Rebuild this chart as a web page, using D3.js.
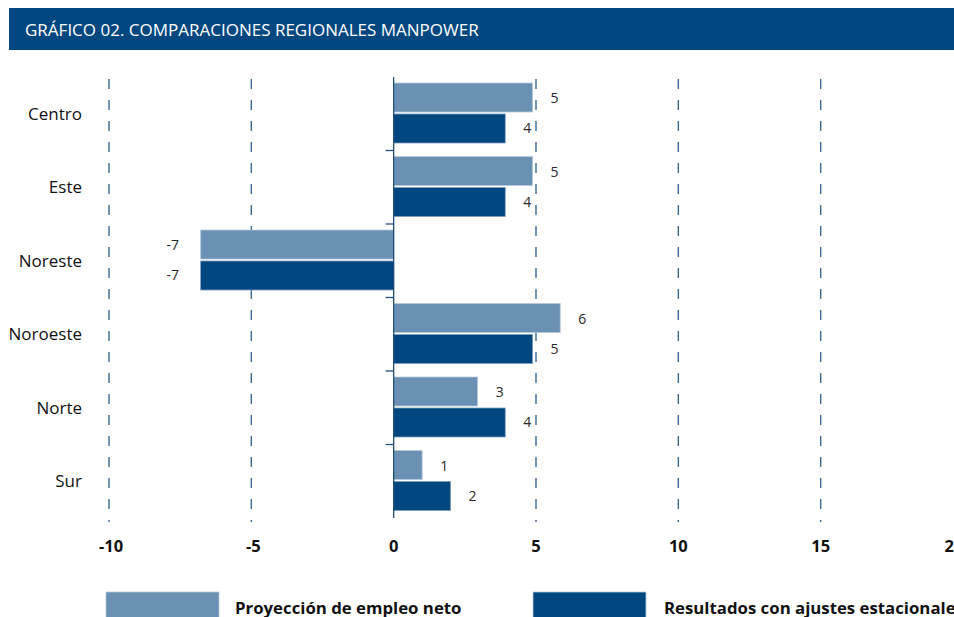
<!DOCTYPE html>
<html>
<head>
<meta charset="utf-8">
<script src="https://cdn.jsdelivr.net/npm/d3@7"></script>
<style>
  body { margin: 0; background: #fff; }
  svg { display: block; font-family: "Open Sans", "Noto Sans", sans-serif; }
</style>
</head>
<body>
<svg width="954" height="617"></svg>
<script>
var regiones = ["Centro", "Este", "Noreste", "Noroeste", "Norte", "Sur"];
var proyeccion = [4.88, 4.88, -6.78, 5.85, 2.95, 1.0];
var ajustados = [3.92, 3.92, -6.78, 4.88, 3.92, 2.0];
var etiquetasProy = ["5", "5", "-7", "6", "3", "1"];
var etiquetasAjus = ["4", "4", "-7", "5", "4", "2"];
var ticksX = [-10, -5, 0, 5, 10, 15, 20];
var series = ["Proyección de empleo neto", "Resultados con ajustes estacionales"];

var colorClaro = "#6a91b3", colorOscuro = "#00467f";

var svg = d3.select("svg");

// banner del título
svg.append("rect")
    .attr("x", 9).attr("y", 8)
    .attr("width", 945).attr("height", 42)
    .attr("fill", "#00467f");
svg.append("text")
    .attr("x", 25).attr("y", 36)
    .attr("fill", "#fff")
    .attr("font-size", 17)
    .text("GRÁFICO 02. COMPARACIONES REGIONALES MANPOWER");

var x = d3.scaleLinear().domain([-10, 20]).range([109, 963]);
var y = d3.scaleBand().domain(regiones).range([77, 518]);

var data = regiones.map(function(r, i) {
  return { region: r, p: proyeccion[i], a: ajustados[i], lp: etiquetasProy[i], la: etiquetasAjus[i] };
});

// líneas de rejilla
svg.append("g")
  .selectAll("line")
  .data(ticksX.filter(function(t) { return t != 0 && t < 20; }))
  .enter().append("line")
    .attr("x1", function(d) { return x(d); })
    .attr("x2", function(d) { return x(d); })
    .attr("y1", 79).attr("y2", 522)
    .attr("stroke", "#3a6894")
    .attr("stroke-width", 1.4)
    .attr("stroke-dasharray", "10,11");

// barras
var g = svg.append("g");
var barH = 29;

g.selectAll("rect.p")
  .data(data)
  .enter().append("rect")
    .attr("class", "p")
    .attr("x", function(d) { return x(Math.min(0, d.p)); })
    .attr("y", function(d) { return y(d.region) + 6; })
    .attr("width", function(d) { return Math.abs(x(d.p) - x(0)); })
    .attr("height", barH)
    .attr("fill", colorClaro)
    .attr("stroke", "#b7c9da")
    .attr("stroke-width", 0.8);

g.selectAll("rect.a")
  .data(data)
  .enter().append("rect")
    .attr("class", "a")
    .attr("x", function(d) { return x(Math.min(0, d.a)); })
    .attr("y", function(d) { return y(d.region) + 6 + barH + 2; })
    .attr("width", function(d) { return Math.abs(x(d.a) - x(0)); })
    .attr("height", barH)
    .attr("fill", colorOscuro)
    .attr("stroke", "#7f9fbf")
    .attr("stroke-width", 0.8);

// etiquetas de valor
function posEtiqueta(v) { return v >= 0 ? x(v) + 22 : x(v) - 28; }

g.selectAll("text.lp")
  .data(data)
  .enter().append("text")
    .attr("x", function(d) { return posEtiqueta(d.p); })
    .attr("y", function(d) { return y(d.region) + 6 + barH / 2 + 1; })
    .attr("dy", "0.35em")
    .attr("text-anchor", "middle")
    .attr("font-size", 14)
    .attr("fill", "#2a2a2a")
    .text(function(d) { return d.lp; });

g.selectAll("text.la")
  .data(data)
  .enter().append("text")
    .attr("x", function(d) { return posEtiqueta(d.a); })
    .attr("y", function(d) { return y(d.region) + 6 + barH + 2 + barH / 2; })
    .attr("dy", "0.35em")
    .attr("text-anchor", "middle")
    .attr("font-size", 14)
    .attr("fill", "#2a2a2a")
    .text(function(d) { return d.la; });

// eje vertical en cero
svg.append("line")
    .attr("x1", x(0)).attr("x2", x(0))
    .attr("y1", 77).attr("y2", 518)
    .attr("stroke", "#1f4e7a")
    .attr("stroke-width", 1.3);

svg.append("g")
  .selectAll("line")
  .data(regiones.slice(1))
  .enter().append("line")
    .attr("x1", x(0) - 8).attr("x2", x(0))
    .attr("y1", function(d) { return y(d); })
    .attr("y2", function(d) { return y(d); })
    .attr("stroke", "#1f4e7a")
    .attr("stroke-width", 1.3);

// nombres de región
svg.append("g")
  .selectAll("text")
  .data(regiones)
  .enter().append("text")
    .attr("x", 82)
    .attr("y", function(d) { return y(d) + y.bandwidth() / 2; })
    .attr("dy", "0.35em")
    .attr("text-anchor", "end")
    .attr("font-size", 17)
    .attr("fill", "#111")
    .text(function(d) { return d; });

// etiquetas del eje x (la última queda cortada en el borde, como en el original)
svg.append("g")
  .selectAll("text")
  .data(ticksX)
  .enter().append("text")
    .attr("x", function(d, i) { return i == ticksX.length - 1 ? x(d) - 9 : x(d) + (d < 0 ? 2 : 0); })
    .attr("y", 552)
    .attr("text-anchor", "middle")
    .attr("font-size", 16.5)
    .attr("font-weight", "bold")
    .attr("fill", "#111")
    .text(function(d) { return d; });

// leyenda
var legend = svg.append("g")
  .selectAll("g")
  .data(series)
  .enter().append("g")
    .attr("transform", function(d, i) { return "translate(" + (106 + i * 427) + ",592)"; });

legend.append("rect")
    .attr("width", 113).attr("height", 28)
    .attr("fill", function(d, i) { return i == 0 ? colorClaro : colorOscuro; })
    .attr("stroke", "#b7c9da")
    .attr("stroke-width", 0.8);

legend.append("text")
    .attr("x", function(d, i) { return i == 0 ? 129 : 131; })
    .attr("y", 22)
    .attr("font-size", 16.8)
    .attr("font-weight", "bold")
    .attr("fill", "#111")
    .text(function(d) { return d; });
</script>
</body>
</html>
